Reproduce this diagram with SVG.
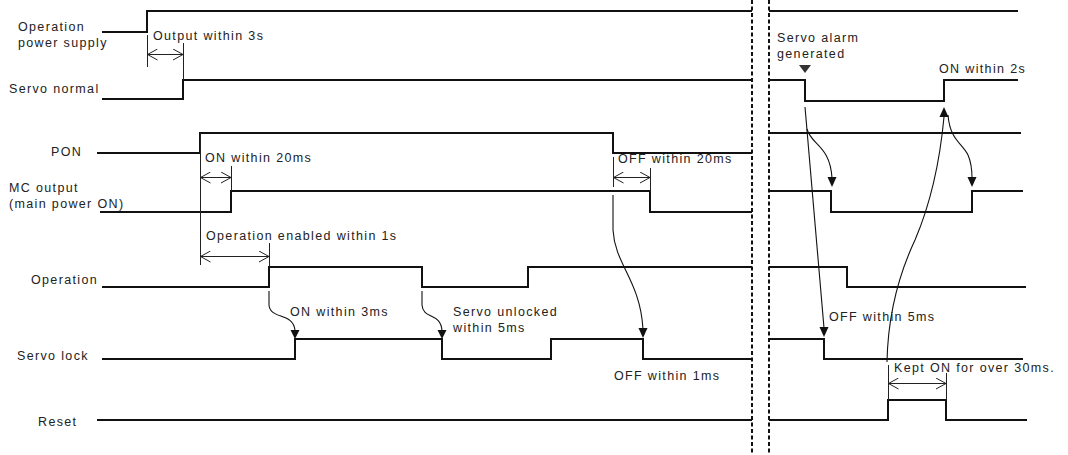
<svg xmlns="http://www.w3.org/2000/svg" width="1068" height="455" viewBox="0 0 1068 455">
<style>
.sig{fill:none;stroke:#111;stroke-width:2;stroke-linejoin:miter}
.dim{fill:none;stroke:#222;stroke-width:1}
.dash{fill:none;stroke:#111;stroke-width:2;stroke-dasharray:4 2.5}
.cur{fill:none;stroke:#111;stroke-width:1.1}
.ah{fill:#111}
text{font-family:"Liberation Sans",Arial,sans-serif;font-size:12.5px;letter-spacing:1.35px;fill:#222}
</style>
<defs>
<marker id="chev" viewBox="0 0 12 12" refX="11" refY="6" markerWidth="12" markerHeight="12" markerUnits="userSpaceOnUse" orient="auto-start-reverse">
<path d="M1,0.5 L11,6 L1,11.5" fill="none" stroke="#222" stroke-width="1"/>
</marker>
</defs>
<g id="separators">
<line class="dash" x1="752" y1="0" x2="752" y2="455"/>
<line class="dash" x1="769" y1="0" x2="769" y2="455"/>
</g>
<g id="sig-power">
<text x="18" y="31">Operation</text>
<text x="18" y="47">power supply</text>
<path class="sig" d="M102,32 H147 V11 H752 M769,11 H1018"/>
</g>
<g id="sig-servo-normal">
<text x="9" y="93">Servo normal</text>
<path class="sig" d="M102,99 H183 V80 H752 M769,80 H805 V101 H944 V80 H1018"/>
</g>
<g id="sig-pon">
<text x="51" y="156">PON</text>
<path class="sig" d="M97,153 H200 V133 H613 V153 H752 M769,133 H1021"/>
</g>
<g id="sig-mc">
<text x="9" y="192">MC output</text>
<text x="9" y="208">(main power ON)</text>
<path class="sig" d="M100,212 H231 V191 H650 V212 H752 M769,191 H831 V212 H972 V191 H1023"/>
</g>
<g id="sig-operation">
<text x="31" y="284">Operation</text>
<path class="sig" d="M102,287 H269 V267 H422 V287 H528 V267 H752 M769,267 H847 V287 H1026"/>
</g>
<g id="sig-servo-lock">
<text x="17" y="360">Servo lock</text>
<path class="sig" d="M102,359 H295 V339 H442 V359 H551 V339 H643 V359 H752 M769,339 H824 V359 H1023"/>
</g>
<g id="sig-reset">
<text x="38" y="426">Reset</text>
<path class="sig" d="M97,420 H752 M769,420 H888 V400 H946 V420 H1027"/>
</g>
<g id="connectors">
<!-- dimension extension ticks -->
<path class="dim" d="M147.5,35 V67 M183.5,43 V80 M200.5,133 V265 M231.5,166 V191 M269.5,243 V267 M613.5,157 V187 M650.5,168 V191 M888.5,365 V400 M946.5,373 V400"/>
<!-- dimension arrows -->
<line class="dim" x1="147.5" y1="54.5" x2="183" y2="54.5" marker-start="url(#chev)" marker-end="url(#chev)"/>
<line class="dim" x1="200.5" y1="177.5" x2="231" y2="177.5" marker-start="url(#chev)" marker-end="url(#chev)"/>
<line class="dim" x1="200.5" y1="256.5" x2="269" y2="256.5" marker-start="url(#chev)" marker-end="url(#chev)"/>
<line class="dim" x1="613.5" y1="177.5" x2="650" y2="177.5" marker-start="url(#chev)" marker-end="url(#chev)"/>
<line class="dim" x1="888.5" y1="383.5" x2="946" y2="383.5" marker-start="url(#chev)" marker-end="url(#chev)"/>
<!-- causal curves -->
<path class="cur" d="M269,291 L269,305 C270,320 294,312 295,331"/>
<polygon class="ah" points="290.5,330 299.5,330 295,339"/>
<path class="cur" d="M422,291 L422,305 C423,320 441,312 442,331"/>
<polygon class="ah" points="437.5,330 446.5,330 442,339"/>
<path class="cur" d="M613,195 L613,230 C615,265 640,280 643,329"/>
<polygon class="ah" points="638.5,328 647.5,328 643,338"/>
<path class="cur" d="M805,107 L824,328"/>
<polygon class="ah" points="819.5,327 828.5,327 824,337"/>
<path class="cur" d="M807,129 C811,145 830,145 832,178"/>
<polygon class="ah" points="827.5,177 836.5,177 832,187"/>
<path class="cur" d="M887,362 C888,310 900,272 915,240 C930,205 940,160 944,117"/>
<polygon class="ah" points="939.5,117 948.5,117 944,107"/>
<path class="cur" d="M948,115 C950,140 962,143 968,155 C971,162 972,168 972,178"/>
<polygon class="ah" points="967.5,177 976.5,177 972,187"/>
<polygon fill="#333" points="799,65 811,65 805,73"/>
</g>
<g id="labels">
<text x="153" y="40">Output within 3s</text>
<text x="205" y="162">ON within 20ms</text>
<text x="206" y="240">Operation enabled within 1s</text>
<text x="618" y="163">OFF within 20ms</text>
<text x="290" y="316">ON within 3ms</text>
<text x="453" y="316">Servo unlocked</text>
<text x="453" y="332">within 5ms</text>
<text x="614" y="380">OFF within 1ms</text>
<text x="777" y="42">Servo alarm</text>
<text x="777" y="58">generated</text>
<text x="939" y="73">ON within 2s</text>
<text x="829" y="321">OFF within 5ms</text>
<text x="894" y="372">Kept ON for over 30ms.</text>
</g>
</svg>
